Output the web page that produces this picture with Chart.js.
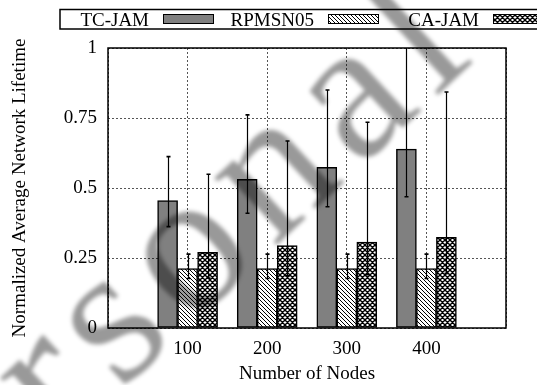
<!DOCTYPE html>
<html>
<head>
<meta charset="utf-8">
<script src="https://cdn.jsdelivr.net/npm/chart.js@4.4.1/dist/chart.umd.min.js"></script>
<style>
  html, body { margin: 0; padding: 0; background: #fff; }
  #wrap { width: 537px; height: 385px; position: relative; }
</style>
</head>
<body>
<div id="wrap"><canvas id="c" width="537" height="385"></canvas></div>
<script>
// Network sizes (x categories)
const nodeCounts = [100, 200, 300, 400];
const seriesNames = ['TC-JAM', 'RPMSN05', 'CA-JAM'];

// Normalized average network lifetime, with error-bar bounds
const tcJam     = [0.455, 0.531, 0.574, 0.639];
const tcJamLow  = [0.362, 0.410, 0.433, 0.469];
const tcJamHigh = [0.612, 0.761, 0.850, 1.030];

const rpmsn05     = [0.212, 0.212, 0.212, 0.212];
const rpmsn05Low  = [0.177, 0.177, 0.177, 0.177];
const rpmsn05High = [0.264, 0.264, 0.264, 0.264];

const caJam     = [0.270, 0.294, 0.307, 0.324];
const caJamLow  = [0.178, 0.186, 0.190, 0.195];
const caJamHigh = [0.549, 0.668, 0.735, 0.843];

const yTickValues = [0, 0.25, 0.5, 0.75, 1];
const yTickLabels = ['0', '0.25', '0.5', '0.75', '1'];

const stampText = 'Personal';

const FONT = "'Liberation Serif', 'Times New Roman', serif";

// Fill patterns
function hatchPattern() {
  const s = 4;
  const c = document.createElement('canvas');
  c.width = s; c.height = s;
  const g = c.getContext('2d');
  g.fillStyle = '#fff'; g.fillRect(0, 0, s, s);
  g.strokeStyle = '#000'; g.lineWidth = 1;
  g.beginPath();
  for (let k = -1; k <= 1; k++) {
    g.moveTo(k * s - 1, -1); g.lineTo(k * s + s + 1, s + 1);
  }
  g.stroke();
  return g.createPattern(c, 'repeat');
}
function crossPattern() {
  const s = 5;
  const c = document.createElement('canvas');
  c.width = s; c.height = s;
  const g = c.getContext('2d');
  g.fillStyle = '#fff'; g.fillRect(0, 0, s, s);
  g.strokeStyle = '#000'; g.lineWidth = 1.4;
  g.beginPath();
  for (let k = -1; k <= 1; k++) {
    g.moveTo(k * s - 1, -1); g.lineTo(k * s + s + 1, s + 1);
    g.moveTo(k * s - 1, s + 1); g.lineTo(k * s + s + 1, -1);
  }
  g.stroke();
  return g.createPattern(c, 'repeat');
}

const toPoints = vals => nodeCounts.map((n, i) => ({ x: n, y: vals[i] }));

// Error bars centred on each bar
const errorBars = {
  id: 'errorBars',
  afterDatasetsDraw(chart) {
    const { ctx, chartArea: a, scales: { y } } = chart;
    ctx.save();
    ctx.beginPath();
    ctx.rect(a.left, a.top, a.right - a.left, a.bottom - a.top);
    ctx.clip();
    ctx.strokeStyle = '#000';
    chart.data.datasets.forEach((ds, di) => {
      const meta = chart.getDatasetMeta(di);
      meta.data.forEach((bar, i) => {
        const x = Math.round(bar.x) + 0.5;
        const yl = y.getPixelForValue(ds.errLow[i]);
        const yh = y.getPixelForValue(ds.errHigh[i]);
        ctx.lineWidth = 1.2;
        ctx.beginPath(); ctx.moveTo(x, yl); ctx.lineTo(x, yh); ctx.stroke();
        ctx.lineWidth = 1.6;
        ctx.beginPath();
        ctx.moveTo(x - 2, yl); ctx.lineTo(x + 2, yl);
        ctx.moveTo(x - 2, yh); ctx.lineTo(x + 2, yh);
        ctx.stroke();
      });
    });
    ctx.restore();
  }
};

// Box around the plot area
const frame = {
  id: 'frame',
  afterDatasetsDraw(chart) {
    const { ctx, chartArea: a } = chart;
    ctx.save();
    ctx.strokeStyle = '#000';
    ctx.lineWidth = 1.5;
    ctx.strokeRect(a.left, a.top, a.right - a.left, a.bottom - a.top);
    ctx.restore();
  }
};

// Boxed key along the top: label, then sample swatch
const keyBox = {
  id: 'keyBox',
  afterDraw(chart) {
    const ctx = chart.ctx;
    ctx.save();
    ctx.strokeStyle = '#000';
    ctx.lineWidth = 1.5;
    ctx.strokeRect(60, 9.5, 520, 19.5);
    ctx.font = '19px ' + FONT;
    ctx.textAlign = 'right';
    ctx.textBaseline = 'alphabetic';
    chart.data.datasets.forEach((ds, i) => {
      const sx = 163 + i * 165;
      ctx.fillStyle = '#000';
      ctx.fillText(ds.label, sx - 14, 25.5);
      ctx.fillStyle = ds.backgroundColor;
      ctx.fillRect(sx, 14, 50, 9);
      ctx.lineWidth = 1;
      ctx.strokeRect(sx + 0.5, 14.5, 50, 9);
    });
    ctx.restore();
  }
};

// Soft diagonal stamp across the figure
const stamp = {
  id: 'stamp',
  afterDraw(chart) {
    const ctx = chart.ctx;
    ctx.save();
    ctx.filter = 'blur(2px)';
    ctx.fillStyle = 'rgba(0,0,0,0.40)';
    ctx.translate(-110, 606);
    ctx.rotate(-43 * Math.PI / 180);
    ctx.font = '200px ' + FONT;
    ctx.letterSpacing = '16px';
    ctx.textAlign = 'left';
    ctx.textBaseline = 'alphabetic';
    ctx.fillText(stampText, 0, 0);
    ctx.restore();
  }
};

const ctx = document.getElementById('c').getContext('2d');
new Chart(ctx, {
  type: 'bar',
  data: {
    datasets: [
      { label: seriesNames[0], data: toPoints(tcJam), errLow: tcJamLow, errHigh: tcJamHigh,
        backgroundColor: '#808080' },
      { label: seriesNames[1], data: toPoints(rpmsn05), errLow: rpmsn05Low, errHigh: rpmsn05High,
        backgroundColor: hatchPattern() },
      { label: seriesNames[2], data: toPoints(caJam), errLow: caJamLow, errHigh: caJamHigh,
        backgroundColor: crossPattern() }
    ]
  },
  options: {
    responsive: false,
    animation: false,
    devicePixelRatio: 1,
    layout: { padding: { top: 48, right: 31, left: 0, bottom: 0 } },
    plugins: { legend: { display: false }, tooltip: { enabled: false }, title: { display: false } },
    datasets: {
      bar: { barThickness: 20, borderWidth: 1.5, borderColor: '#000', borderSkipped: false, grouped: true }
    },
    scales: {
      x: {
        type: 'linear', min: 0, max: 500, offset: false,
        afterFit(s) { s.height = 57; },
        ticks: {
          stepSize: 100, padding: 10, color: '#000', maxRotation: 0, autoSkip: false,
          font: { family: FONT, size: 19 },
          callback: v => nodeCounts.includes(v) ? String(v) : ''
        },
        grid: { offset: false, color: '#555', lineWidth: 1, drawTicks: false },
        border: { display: false, dash: [2, 2] },
        title: { display: true, text: 'Number of Nodes', color: '#000',
                 font: { family: FONT, size: 19 }, padding: { top: 0, bottom: 0 } }
      },
      y: {
        min: 0, max: 1,
        afterFit(s) { s.width = 108; },
        afterBuildTicks(s) { s.ticks = yTickValues.map(v => ({ value: v })); },
        ticks: {
          padding: 11, color: '#000', font: { family: FONT, size: 19 },
          callback: v => yTickLabels[yTickValues.indexOf(v)]
        },
        grid: { color: '#555', lineWidth: 1, drawTicks: false },
        border: { display: false, dash: [2, 2] },
        title: { display: true, text: 'Normalized Average Network Lifetime', color: '#000',
                 font: { family: FONT, size: 19 }, padding: { top: 9, bottom: 0 } }
      }
    }
  },
  plugins: [frame, errorBars, keyBox, stamp]
});
</script>
</body>
</html>
